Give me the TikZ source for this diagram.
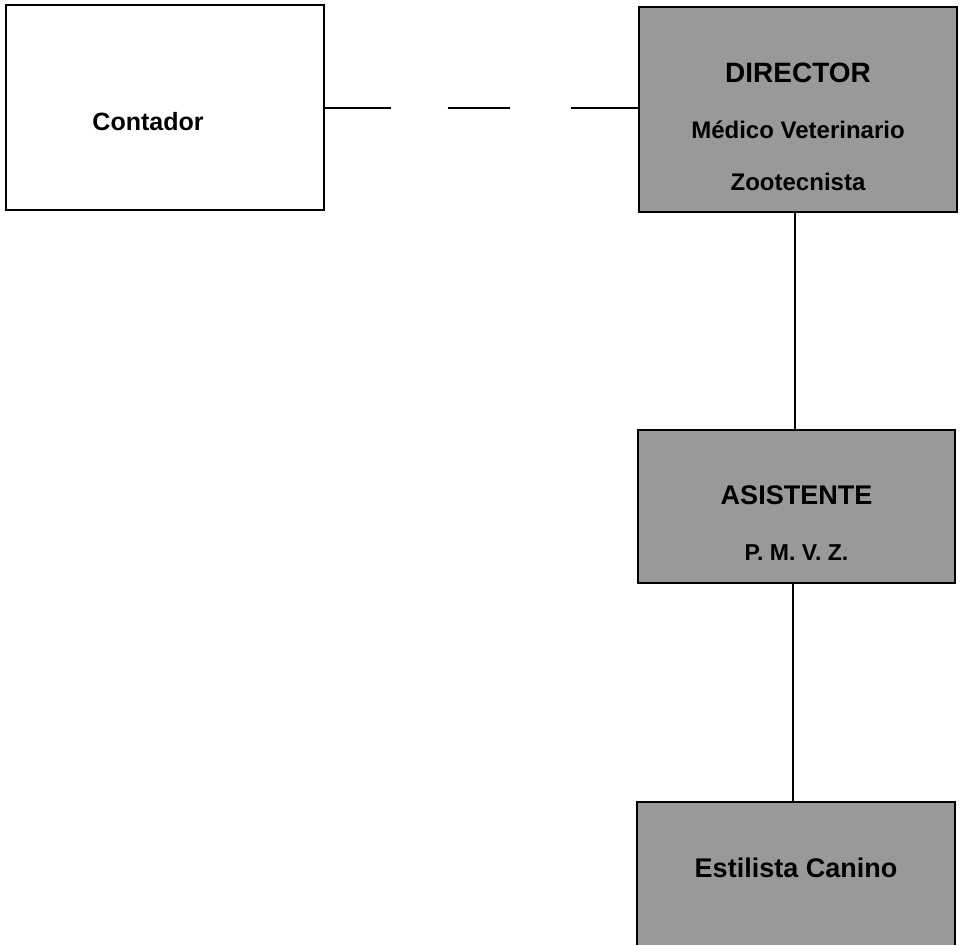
\documentclass[tikz,border=0pt]{standalone}
\usepackage{fontspec}
\setmainfont{Liberation Sans}
\usetikzlibrary{calc}

\begin{document}
\begin{tikzpicture}[x=1pt, y=-1pt,
		cargo/.style={draw=black, line width=1.8pt, fill=black!40, rectangle, inner sep=0pt, minimum width=318pt},
		enlace/.style={line width=2pt}]
		%%%%% START %%%%%
		\useasboundingbox (0, 0) rectangle (964, 945);
		
		\node[cargo, fill=white, minimum height=205pt, font=\bfseries\fontsize{25}{30}\selectfont, text height=45pt, text depth=0pt] (cont) at (165, 107.5) {Contador\hspace*{34pt}};
		
		\node[cargo, minimum height=205pt, align=center, font=\bfseries\fontsize{24}{52}\selectfont] (dir) at (798, 109.5) {\rule{0pt}{55pt}{\fontsize{28}{30}\selectfont DIRECTOR}\\[4pt] Médico Veterinario\\ Zootecnista};
		
		\node[cargo, minimum width=317pt, minimum height=153pt, align=center, font=\bfseries\fontsize{23}{56}\selectfont] (asist) at (796.5, 506.5) {\rule{0pt}{52pt}{\fontsize{27}{30}\selectfont ASISTENTE}\\ P. M. V. Z.};
		
		\node[cargo, minimum height=150pt, font=\bfseries\fontsize{27}{30}\selectfont, text height=20pt, text depth=20pt] (est) at (796, 877) {Estilista Canino};
		
		\draw[enlace, dash pattern=on 66pt off 57pt on 62pt off 61pt on 90pt] (cont.east) -- (cont.east -| dir.west);
		\draw[enlace] ($(dir.south)+(-3, 0)$) -- ($(dir.south |- asist.north)+(-3, 0)$);
		\draw[enlace] ($(asist.south)+(-4, 0)$) -- ($(asist.south |- est.north)+(-4, 0)$);
		%%%%% END %%%%%
\end{tikzpicture}
\end{document}
